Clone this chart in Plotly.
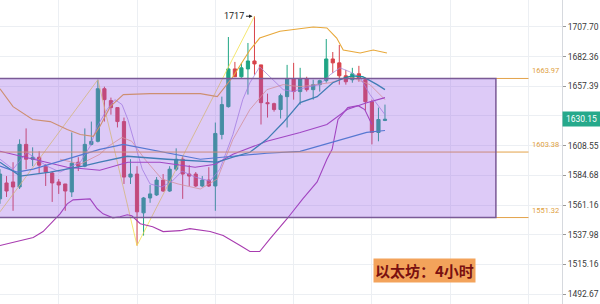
import math
import plotly.graph_objects as go

# ---------------- data ----------------
idx = list(range(60))
opens = [1566.0, 1578.6, 1579.4, 1575.4, 1609.6, 1597.6, 1599.2, 1592.0, 1586.5, 1579.4,
         1577.8, 1571.5, 1595.2, 1592.0, 1609.6, 1612.1, 1655.4, 1645.5, 1639.7, 1628.2,
         1583.3, 1585.7, 1555.0, 1566.7, 1569.1, 1580.9, 1572.2, 1589.6, 1597.6, 1585.7,
         1585.7, 1576.2, 1580.9, 1576.2, 1617.7, 1640.5, 1672.0, 1665.4, 1672.0, 1678.7,
         1675.4, 1643.8, 1643.0, 1638.1, 1648.8, 1663.8, 1653.0, 1663.8, 1654.6, 1658.8,
         1662.1, 1680.4, 1677.1, 1666.2, 1662.9, 1667.9, 1662.9, 1644.6, 1619.3, 1629.1]
highs = [1589.6, 1584.1, 1595.2, 1613.7, 1622.6, 1607.2, 1604.0, 1593.6, 1587.3, 1581.7,
         1577.8, 1619.3, 1599.2, 1622.6, 1628.2, 1662.9, 1657.1, 1648.0, 1639.7, 1631.5,
         1597.6, 1592.0, 1567.5, 1577.0, 1583.3, 1585.7, 1592.0, 1606.4, 1600.0, 1592.8,
         1587.3, 1584.1, 1591.2, 1627.4, 1648.8, 1699.1, 1677.9, 1677.1, 1694.0, 1717.0,
         1675.4, 1651.3, 1643.8, 1651.3, 1675.4, 1677.1, 1672.9, 1665.4, 1662.9, 1662.9,
         1697.4, 1686.3, 1692.3, 1671.2, 1672.9, 1674.6, 1664.6, 1646.3, 1639.7, 1642.2]
lows = [1562.1, 1567.5, 1556.6, 1573.8, 1589.6, 1592.0, 1585.7, 1576.2, 1563.6, 1569.9,
        1556.6, 1567.5, 1588.1, 1591.2, 1608.8, 1611.2, 1628.2, 1633.9, 1623.4, 1577.8,
        1577.8, 1529.6, 1537.3, 1562.9, 1568.3, 1571.5, 1571.5, 1588.1, 1566.0, 1576.2,
        1575.4, 1575.4, 1575.4, 1556.6, 1613.7, 1639.7, 1665.4, 1664.6, 1650.5, 1667.1,
        1625.8, 1631.5, 1636.4, 1630.7, 1623.4, 1646.3, 1642.2, 1653.0, 1646.3, 1653.0,
        1660.4, 1668.7, 1658.8, 1658.8, 1660.4, 1661.2, 1637.2, 1609.6, 1612.1, 1628.6]
closes = [1585.7, 1572.2, 1575.4, 1609.6, 1597.6, 1599.2, 1592.8, 1587.3, 1578.6, 1577.0,
          1572.2, 1594.4, 1592.0, 1609.6, 1612.1, 1655.4, 1646.3, 1639.7, 1628.2, 1583.3,
          1585.7, 1555.8, 1566.7, 1569.9, 1580.9, 1572.2, 1589.6, 1597.6, 1585.7, 1584.1,
          1576.2, 1580.9, 1576.2, 1618.5, 1642.2, 1672.0, 1665.4, 1672.9, 1678.7, 1676.2,
          1643.8, 1643.0, 1638.1, 1649.6, 1663.8, 1653.0, 1663.8, 1654.6, 1658.8, 1662.1,
          1680.4, 1677.1, 1666.2, 1661.2, 1667.9, 1663.8, 1644.6, 1619.3, 1629.9, 1630.15]

# indicator lines (candle index, price)
upper_x = [0, 2, 5, 7.7, 10.3, 12.3, 14.3, 15.3, 16.9, 18.9, 23, 30.7, 33.3, 35.7, 38.3,
           39.8, 42.9, 46, 48, 50.1, 51.6, 52.6, 55.2, 57.2, 59.3]
upper_y = [1655.4, 1640.5, 1629.9, 1628.2, 1621.8, 1617.7, 1616.1, 1624.2, 1640.5, 1650.5,
           1651.3, 1651.3, 1648.8, 1665.4, 1688.0, 1698.2, 1704.0, 1706.1, 1707.7, 1706.9,
           1698.2, 1688.0, 1685.5, 1688.0, 1685.5]

lower_x = [0, 2.6, 5.1, 6.6, 8.1, 9.2, 10.3, 11.2, 13.8, 14.9, 15.8, 17.3, 18.4, 19.5, 20.2,
           21.5, 23.4, 25, 27.6, 29.1, 32.2, 34.2, 36.8, 38.3, 39.8, 41.4, 44, 46.4, 48.6,
           50.1, 50.9, 51.8, 53.3, 54.9, 55.9, 57]
lower_y = [1529.6, 1532.7, 1535.8, 1540.4, 1548.1, 1554.2, 1562.1, 1565.2, 1566.0, 1558.2,
           1554.2, 1551.1, 1551.9, 1553.5, 1552.7, 1546.5, 1544.2, 1540.4, 1541.1, 1542.7,
           1540.4, 1537.3, 1529.6, 1525.0, 1525.0, 1535.0, 1550.4, 1566.0, 1579.4, 1597.6,
           1605.6, 1629.9, 1639.7, 1641.3, 1638.1, 1625.8]

mid_x = [0, 2.6, 5.1, 10.3, 15.3, 19.6, 24.5, 29.9, 33, 35.7, 40.9, 46, 50.1, 53.2, 56.2, 59]
mid_y = [1604.0, 1600.8, 1597.6, 1591.2, 1588.8, 1595.2, 1595.2, 1591.2, 1593.6, 1601.6,
         1612.1, 1619.3, 1625.8, 1638.1, 1643.8, 1648.0]

teal_x = [0, 3.1, 7.7, 12.7, 15.3, 19.5, 25.6, 30.7, 33.3, 35.7, 38.3, 40.9, 43.4, 46, 48.6,
          51, 52.9, 54, 55.6, 57.8, 59]
teal_y = [1595.2, 1584.1, 1587.3, 1592.0, 1595.2, 1600.0, 1597.6, 1596.0, 1595.2, 1599.2,
          1603.2, 1613.7, 1627.4, 1643.8, 1648.8, 1660.4, 1664.6, 1666.2, 1665.4, 1658.8, 1654.6]

blue_x = [0, 2.6, 5.1, 10.3, 15.3, 18.9, 23, 30.7, 35.7, 40.9, 46, 51, 56.2, 59]
blue_y = [1592.0, 1587.3, 1589.6, 1597.6, 1605.6, 1609.6, 1605.6, 1597.6, 1600.0, 1602.4,
          1604.0, 1611.2, 1619.3, 1620.9]

zig_x = [0, 15, 21, 39]
zig_y = [1555.8, 1662.9, 1529.6, 1717.0]

lav_x = [0, 2, 4.1, 7.2, 9.2, 12.3, 13.8, 14.9, 16.4, 17.6, 18.7, 19.6, 20.7, 21.8, 23, 24.8,
         26.4, 27.9, 29.9, 32.2, 33.7, 35.7, 37.2, 38.3, 39.8, 41.4, 43.4, 44.9, 46.7, 49,
         50.6, 52.1, 53.6, 55.2, 56.7, 59]
lav_y = [1597.6, 1589.6, 1603.2, 1592.0, 1587.3, 1595.2, 1608.0, 1624.2, 1638.1, 1646.3,
         1642.2, 1629.9, 1609.6, 1589.6, 1577.8, 1575.4, 1580.1, 1588.1, 1583.3, 1580.1,
         1589.6, 1617.7, 1646.3, 1660.4, 1673.7, 1665.4, 1654.6, 1653.0, 1656.3, 1658.8,
         1667.1, 1672.9, 1669.6, 1664.6, 1650.5, 1633.9]

sal_x = [9.2, 12.3, 15.3, 16.6, 18.7, 20.2, 22.2, 24.8, 27.3, 30.7, 33.3, 35.7, 38.3, 40.9,
         43.4, 46, 50.6, 53.6, 56.7, 59]
sal_y = [1597.6, 1593.6, 1601.6, 1608.0, 1615.3, 1612.1, 1597.6, 1581.7, 1577.8, 1573.8,
         1581.7, 1613.7, 1638.1, 1654.6, 1658.8, 1657.1, 1660.4, 1665.4, 1658.8, 1646.3]

# levels
box_top = 1663.97
box_bottom = 1551.32
mid_level = 1603.38
last_price = 1630.15
high_label = 1717

y_ticks = [1707.70, 1682.36, 1657.39, 1632.80, 1608.55, 1584.68, 1561.16, 1537.98, 1515.16, 1492.67]
y_ticktext = ["1707.70", "1682.36", "1657.39", "", "1608.55", "1584.68", "1561.16",
              "1537.98", "1515.16", "1492.67"]
title_text = "以太坊：4小时"

# ---------------- figure ----------------
fig = go.Figure()

fig.add_trace(go.Candlestick(
    x=idx, open=opens, high=highs, low=lows, close=closes,
    increasing=dict(line=dict(color="#1fa584", width=1), fillcolor="#1fa584"),
    decreasing=dict(line=dict(color="#d8434b", width=1), fillcolor="#d8434b"),
    whiskerwidth=0, hoverinfo="skip", showlegend=False))

def line(xs, ys, color, width=1.0):
    fig.add_trace(go.Scatter(x=xs, y=ys, mode="lines", line=dict(color=color, width=width),
                             hoverinfo="skip", showlegend=False))

line(sal_x, sal_y, "#f0a878", 0.8)
line(lav_x, lav_y, "#a98be0", 0.8)
line(zig_x, zig_y, "#f2e14c", 0.8)
line(upper_x, upper_y, "#e8a83a", 1.1)
line(lower_x, lower_y, "#a83cb0", 1.1)
line(mid_x, mid_y, "#a63fb5", 1.1)
line(blue_x, blue_y, "#3a86c8", 1.2)
line(teal_x, teal_y, "#1b8e9e", 1.3)

# orange level lines
line([-1, 81], [mid_level, mid_level], "#e3a24a", 1)
line([69, 81], [box_top, box_top], "#e3a24a", 1)
line([69, 81], [box_bottom, box_bottom], "#e3a24a", 1)

# purple overlay box (above the candles)
fig.add_trace(go.Scatter(
    x=[-1, 76, 76, -1, -1],
    y=[box_bottom, box_bottom, box_top, box_top, box_bottom],
    mode="lines", fill="toself", fillcolor="rgba(150,90,230,0.32)",
    line=dict(color="#7a5a96", width=1.5), hoverinfo="skip", showlegend=False))

annotations = []
for val in [box_top, mid_level, box_bottom]:
    annotations.append(dict(x=81.2, y=math.log10(val), xref="x", yref="y", text=f"{val:.2f}",
                            showarrow=False, xanchor="left", yanchor="bottom", yshift=1,
                            font=dict(size=7.5, color="#e0a040", family="Roboto")))
annotations.append(dict(x=1, y=math.log10(last_price), xref="paper", yref="y",
                        text=f"{last_price:.2f}", showarrow=False, xanchor="left",
                        yanchor="middle",
                        bgcolor="#26a98b", font=dict(size=8.5, color="white", family="Roboto"),
                        borderpad=2, width=33))
annotations.append(dict(x=39, y=math.log10(high_label), xref="x", yref="y", text=str(high_label),
                        showarrow=True, ax=-20, ay=0, arrowhead=2, arrowsize=0.7, arrowwidth=1,
                        arrowcolor="#222", standoff=2,
                        font=dict(size=9, color="#222", family="Roboto")))
annotations.append(dict(x=424.5 / 562, y=(304 - 270.5) / 304, xref="paper", yref="paper",
                        xanchor="center", yanchor="middle",
                        text=f"<b>{title_text}</b>", showarrow=False,
                        bgcolor="#f3a35b", borderpad=1,
                        font=dict(size=15, color="#7a1010", family="Noto Sans CJK SC")))

fig.update_layout(
    width=600, height=304,
    margin=dict(l=0, r=38, t=0, b=0, autoexpand=False),
    paper_bgcolor="white", plot_bgcolor="white",
    annotations=annotations,
    showlegend=False,
    font=dict(family="Roboto"),
    xaxis=dict(range=[0, 86.13], showticklabels=False, tick0=9, dtick=12,
               showgrid=True, gridcolor="#eceff3", zeroline=False, showline=False,
               rangeslider=dict(visible=False), fixedrange=True, automargin=False),
    yaxis=dict(type="log", side="right", range=[3.17178, 3.23832],
               tickmode="array", tickvals=y_ticks, ticktext=y_ticktext,
               ticks="outside", ticklen=3, tickcolor="#9a9a9a",
               showgrid=True, gridcolor="#eceff3", zeroline=False,
               showline=True, linecolor="#d6d9de", linewidth=1, automargin=False,
               tickfont=dict(size=8.5, color="#3a3a3a", family="Roboto"), fixedrange=True),
)

fig.write_html("out.html", config={"displayModeBar": False})
